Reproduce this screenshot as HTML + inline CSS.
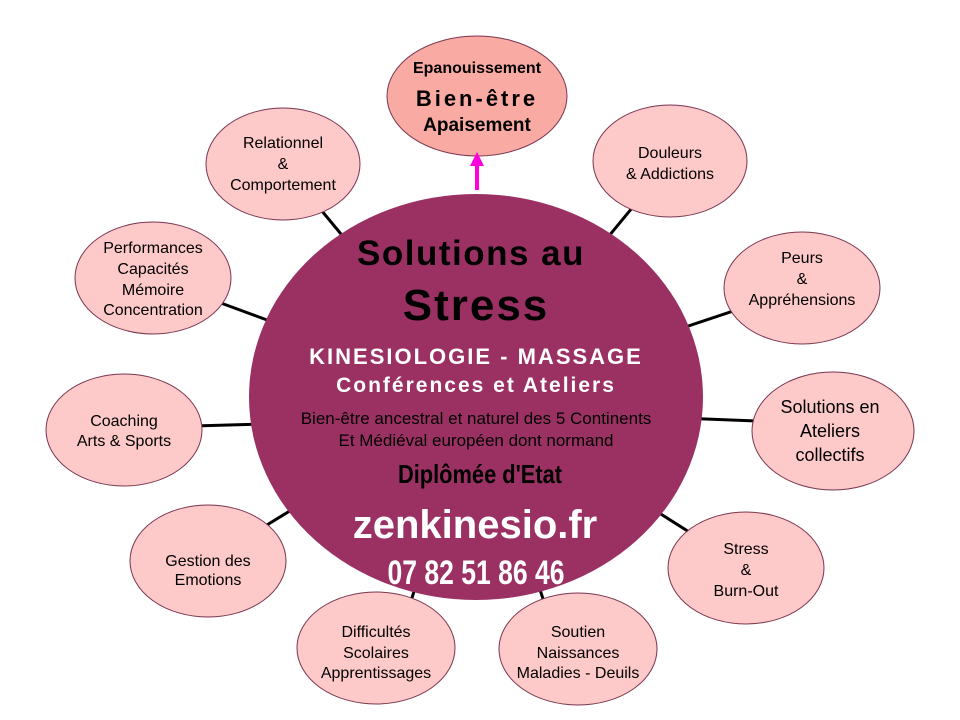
<!DOCTYPE html>
<html><head><meta charset="utf-8"><style>
html,body{margin:0;padding:0;background:#fff;}
svg{display:block;}
text{font-family:"Liberation Sans",Arial,sans-serif;}
</style></head><body>
<svg width="960" height="720" viewBox="0 0 960 720" xmlns="http://www.w3.org/2000/svg">
<g stroke="#000" stroke-width="3">
<line x1="476" y1="397" x2="283" y2="164"/>
<line x1="476" y1="397" x2="670" y2="162"/>
<line x1="476" y1="397" x2="153" y2="278"/>
<line x1="476" y1="397" x2="802" y2="288"/>
<line x1="476" y1="418" x2="124" y2="428"/>
<line x1="476" y1="410" x2="833" y2="424"/>
<line x1="476" y1="397" x2="208" y2="561"/>
<line x1="476" y1="397" x2="746" y2="568"/>
<line x1="476" y1="397" x2="396" y2="648"/>
<line x1="476" y1="397" x2="560" y2="650"/>
</g>
<g fill="#fdc9c9" stroke="#7a3550" stroke-width="1">
<ellipse cx="283" cy="164" rx="77" ry="56"/>
<ellipse cx="670" cy="161" rx="77" ry="56"/>
<ellipse cx="153" cy="278" rx="78" ry="56"/>
<ellipse cx="802" cy="288" rx="78" ry="56"/>
<ellipse cx="124" cy="430" rx="78" ry="56"/>
<ellipse cx="833" cy="431" rx="81" ry="59"/>
<ellipse cx="208" cy="561" rx="78" ry="56"/>
<ellipse cx="746" cy="568" rx="78" ry="56"/>
<ellipse cx="376" cy="648" rx="79" ry="56"/>
<ellipse cx="578" cy="649" rx="79" ry="56"/>
</g>
<ellipse cx="477" cy="96" rx="90" ry="60" fill="#f9aaa2" stroke="#7a3550" stroke-width="1"/>
<ellipse cx="476" cy="397" rx="227" ry="203" fill="#9b3163"/>
<line x1="477" y1="190" x2="477" y2="165" stroke="#ff00dd" stroke-width="4"/>
<polygon points="470,166 484,166 477,152" fill="#ff00dd"/>
<g font-size="16" fill="#000" text-anchor="middle">
<text x="283" y="148">Relationnel</text><text x="283" y="169">&amp;</text><text x="283" y="190">Comportement</text>
<text x="670" y="158">Douleurs</text><text x="670" y="179">&amp; Addictions</text>
<text x="153" y="253">Performances</text><text x="153" y="274">Capacités</text><text x="153" y="295">Mémoire</text><text x="153" y="315">Concentration</text>
<text x="802" y="263">Peurs</text><text x="802" y="284">&amp;</text><text x="802" y="305">Appréhensions</text>
<text x="124" y="426">Coaching</text><text x="124" y="446">Arts &amp; Sports</text>
<text x="208" y="566">Gestion des</text><text x="208" y="585">Emotions</text>
<text x="746" y="554">Stress</text><text x="746" y="575">&amp;</text><text x="746" y="596">Burn-Out</text>
<text x="376" y="637">Difficultés</text><text x="376" y="658">Scolaires</text><text x="376" y="678">Apprentissages</text>
<text x="578" y="637">Soutien</text><text x="578" y="658">Naissances</text><text x="578" y="678">Maladies - Deuils</text>
</g>
<g font-size="18" fill="#000" text-anchor="middle">
<text x="830" y="413">Solutions en</text><text x="830" y="437">Ateliers</text><text x="830" y="461">collectifs</text>
</g>
<g text-anchor="middle" font-weight="bold" fill="#000">
<text x="477" y="73" font-size="16">Epanouissement</text>
<text x="477" y="106" font-size="22" letter-spacing="3">Bien-être</text>
<text x="477" y="131" font-size="19">Apaisement</text>
</g>
<g text-anchor="middle">
<text x="471" y="265" font-size="35" font-weight="bold" fill="#000" letter-spacing="1.5">Solutions au</text>
<text x="476" y="320" font-size="44" font-weight="bold" fill="#000" letter-spacing="2">Stress</text>
<text x="476" y="364" font-size="22" font-weight="bold" fill="#fff" letter-spacing="2">KINESIOLOGIE -  MASSAGE</text>
<text x="476" y="392" font-size="21" font-weight="bold" fill="#fff" letter-spacing="2">Conférences et Ateliers</text>
<text x="476" y="424" font-size="17" fill="#000">Bien-être ancestral et naturel des 5 Continents</text>
<text x="476" y="446" font-size="17" fill="#000">Et Médiéval européen dont normand</text>
<text x="480" y="483" font-size="26" font-weight="bold" fill="#000" transform="translate(480 0) scale(0.84 1) translate(-480 0)">Diplômée d'Etat</text>
<text x="475" y="538" font-size="40" font-weight="bold" fill="#fff">zenkinesio.fr</text>
<text x="476" y="584" font-size="34" font-weight="bold" fill="#fff" transform="translate(476 0) scale(0.78 1) translate(-476 0)">07 82 51 86 46</text>
</g>
</svg>
</body></html>
